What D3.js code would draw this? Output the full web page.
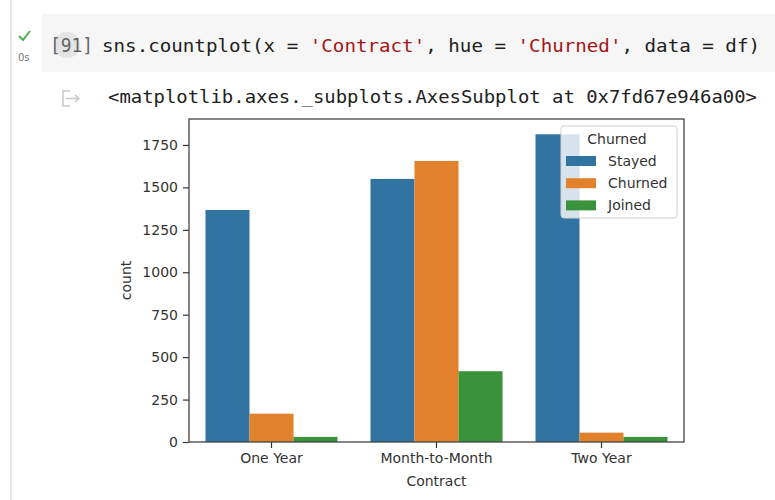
<!DOCTYPE html>
<html><head><meta charset="utf-8">
<script src="https://cdn.jsdelivr.net/npm/d3@7"></script>
<style>
html,body{margin:0;padding:0;background:#fff;}
svg{display:block;}
</style></head>
<body>
<svg id="c" width="775" height="500"></svg>
<script>
// ---- data ----
const categories = ["One Year", "Month-to-Month", "Two Year"];
const hues = ["Stayed", "Churned", "Joined"];
const stayed = [1367, 1550, 1813];
const churned = [167, 1656, 55];
const joined = [30, 417, 30];
const yTicks = [0, 250, 500, 750, 1000, 1250, 1500, 1750];
const hueColors = ["#3274a1", "#e1812c", "#3a923a"];
const codeParts = [
  ["sns.countplot(x = ", "#212121"], ["'Contract'", "#a31515"], [", hue = ", "#212121"],
  ["'Churned'", "#a31515"], [", data = df)", "#212121"]
];
const outputText = "<matplotlib.axes._subplots.AxesSubplot at 0x7fd67e946a00>";

const svg = d3.select("#c");
const mono = "'DejaVu Sans Mono','Liberation Mono',monospace";
const sans = "'DejaVu Sans',sans-serif";

// ---- notebook chrome ----
svg.append("rect").attr("x", 10).attr("y", 0).attr("width", 2).attr("height", 500).attr("fill", "#e6e6e6");
svg.append("rect").attr("x", 42).attr("y", 14).attr("width", 733).attr("height", 58).attr("fill", "#f6f6f6");
svg.append("path").attr("d", "M19,36 L23,40 L30,31").attr("fill", "none").attr("stroke", "#4caf50").attr("stroke-width", 2);
svg.append("text").attr("x", 18).attr("y", 61).attr("font-family", sans).attr("font-size", 10).attr("fill", "#777").text("0s");
svg.append("circle").attr("cx", 67).attr("cy", 45).attr("r", 13).attr("fill", "#e4e4e4");
svg.append("text").attr("x", 50).attr("y", 52).attr("font-family", mono).attr("font-size", 19)
  .attr("fill", "#666").attr("textLength", 43).attr("lengthAdjust", "spacingAndGlyphs").text("[91]");

// code line
const codeText = svg.append("text").attr("x", 102).attr("y", 52).attr("font-family", mono).attr("font-size", 18)
  .attr("textLength", 658).attr("lengthAdjust", "spacingAndGlyphs");
codeParts.forEach(p => codeText.append("tspan").attr("fill", p[1]).text(p[0]));

// output icon
svg.append("path").attr("d", "M70,91 L63,91 L63,106 L70,106 M66,98.5 L79,98.5 M75,95 L79,98.5 L75,102")
  .attr("fill", "none").attr("stroke", "#c8c8c8").attr("stroke-width", 1.5);
svg.append("text").attr("x", 108).attr("y", 103).attr("font-family", mono).attr("font-size", 18)
  .attr("fill", "#212121").attr("textLength", 649).attr("lengthAdjust", "spacingAndGlyphs").text(outputText);

// ---- chart ----
const L = 189, R = 684, T = 119, B = 442;
const x = d3.scaleBand().domain(categories).range([L, R]).paddingInner(0.2).paddingOuter(0.1);
const xh = d3.scaleBand().domain(hues).range([0, x.bandwidth()]).padding(0);
const y = d3.scaleLinear().domain([0, 1903]).range([B, T]);

const series = [stayed, churned, joined];
const rows = [];
hues.forEach((h, hi) => categories.forEach((c, ci) => rows.push({c, h, v: series[hi][ci], col: hueColors[hi]})));

const g = svg.append("g");
g.selectAll("rect.bar").data(rows).enter().append("rect").attr("class", "bar")
  .attr("x", d => x(d.c) + xh(d.h)).attr("width", xh.bandwidth())
  .attr("y", d => y(d.v)).attr("height", d => y(0) - y(d.v)).attr("fill", d => d.col);

// axes
const tickColor = "#333";
const ya = svg.append("g").attr("transform", `translate(${L},0)`)
  .call(d3.axisLeft(y).tickValues(yTicks).tickSize(6).tickPadding(5).tickFormat(d3.format("d")));
const xa = svg.append("g").attr("transform", `translate(0,${B})`)
  .call(d3.axisBottom(x).tickSize(6).tickPadding(5));
[ya, xa].forEach(a => {
  a.select(".domain").remove();
  a.selectAll("line").attr("stroke", tickColor).attr("stroke-width", 1.2);
  a.selectAll("text").attr("font-family", sans).attr("font-size", 14).attr("fill", "#333");
});

svg.append("rect").attr("x", L).attr("y", T).attr("width", R - L).attr("height", B - T)
  .attr("fill", "none").attr("stroke", "#444").attr("stroke-width", 1.3);

svg.append("text").attr("transform", `translate(131,${(T + B) / 2}) rotate(-90)`).attr("text-anchor", "middle")
  .attr("font-family", sans).attr("font-size", 14).attr("fill", "#333").text("count");
svg.append("text").attr("x", (L + R) / 2).attr("y", 486).attr("text-anchor", "middle")
  .attr("font-family", sans).attr("font-size", 14).attr("fill", "#333").text("Contract");

// legend
const lg = svg.append("g");
lg.append("rect").attr("x", 561).attr("y", 126).attr("width", 116).attr("height", 92).attr("rx", 3)
  .attr("fill", "#fff").attr("fill-opacity", 0.8).attr("stroke", "#d0d0d0");
lg.append("text").attr("x", 617).attr("y", 144).attr("text-anchor", "middle")
  .attr("font-family", sans).attr("font-size", 14).attr("fill", "#333").text("Churned");
hues.forEach((h, i) => {
  const cy = 161 + i * 22.2;
  lg.append("rect").attr("x", 566).attr("y", cy - 5).attr("width", 30).attr("height", 10).attr("fill", hueColors[i]);
  lg.append("text").attr("x", 608).attr("y", cy + 5).attr("font-family", sans).attr("font-size", 14)
    .attr("fill", "#333").text(h);
});
</script>
</body></html>
